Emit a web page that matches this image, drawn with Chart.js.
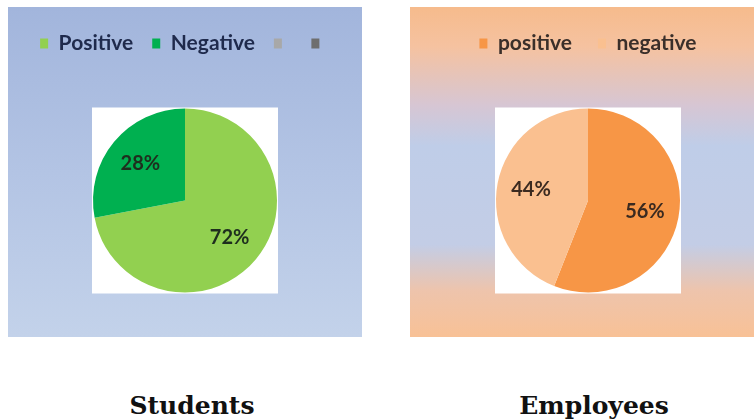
<!DOCTYPE html>
<html>
<head>
<meta charset="utf-8">
<script src="https://cdn.jsdelivr.net/npm/chart.js@4.4.0/dist/chart.umd.min.js"></script>
<style>
  body { margin: 0; background: #fff; width: 754px; height: 419px; position: relative; overflow: hidden; }
  canvas { position: absolute; }
  #students { left: 8px; top: 7px; }
  #employees { left: 410px; top: 7px; }
  .caption {
    position: absolute; top: 393px; width: 240px; text-align: center;
    font: bold 25px "DejaVu Serif", serif; line-height: 25px; color: #111;
  }
</style>
</head>
<body>
<canvas id="students" width="354" height="330"></canvas>
<canvas id="employees" width="344" height="330"></canvas>
<div class="caption" style="left:72px">Students</div>
<div class="caption" style="left:474px">Employees</div>
<script>
// survey answers, in percent
const studentLabels = ['Positive', 'Negative', '', ''];
const studentValues = [72, 28, 0, 0];
const studentColors = ['#92D050', '#00B050', '#A8A8A8', '#6E6E6E'];

const employeeLabels = ['positive', 'negative'];
const employeeValues = [56, 44];
const employeeColors = ['#F79646', '#FAC090'];

// gradient fill behind the whole chart, plus the white plot square
const panelPlugin = {
    id: 'panel',
    beforeDraw(chart, args, opts) {
        const ctx = chart.ctx;
        const g = ctx.createLinearGradient(0, 0, 0, chart.height);
        opts.stops.forEach(s => g.addColorStop(s[0], s[1]));
        ctx.save();
        ctx.fillStyle = g;
        ctx.fillRect(0, 0, chart.width, chart.height);
        ctx.restore();
    },
    beforeDatasetsDraw(chart) {
        const arc = chart.getDatasetMeta(0).data[0];
        const r = arc.outerRadius + 1;
        const ctx = chart.ctx;
        ctx.save();
        ctx.fillStyle = '#ffffff';
        ctx.fillRect(arc.x - r, arc.y - r, 2 * r, 2 * r);
        ctx.restore();
    }
};

// percentage labels inside each slice
const sliceLabels = {
    id: 'sliceLabels',
    afterDatasetsDraw(chart, args, opts) {
        const ctx = chart.ctx;
        const values = chart.data.datasets[0].data;
        ctx.save();
        ctx.font = 'bold 20px Lato, sans-serif';
        ctx.fillStyle = opts.color;
        ctx.textAlign = 'center';
        ctx.textBaseline = 'middle';
        chart.getDatasetMeta(0).data.forEach((arc, i) => {
            if (!values[i]) return;
            const p = arc.getProps(['x', 'y', 'startAngle', 'endAngle', 'outerRadius'], true);
            const mid = (p.startAngle + p.endAngle) / 2;
            const d = p.outerRadius * 0.63;
            ctx.fillText(values[i] + '%', p.x + Math.cos(mid) * d, p.y + Math.sin(mid) * d);
        });
        ctx.restore();
    }
};

function makePie(id, labels, values, colors, cfg) {
    return new Chart(document.getElementById(id), {
        type: 'pie',
        data: {
            labels: labels,
            datasets: [{
                data: values,
                backgroundColor: colors,
                borderWidth: 0
            }]
        },
        options: {
            responsive: false,
            animation: false,
            events: [],
            radius: 92,
            layout: { padding: cfg.padding },
            plugins: {
                legend: {
                    position: 'top',
                    labels: {
                        boxWidth: 8,
                        boxHeight: 10,
                        padding: cfg.legendGap,
                        color: cfg.textColor,
                        font: { family: 'Lato, sans-serif', size: 21, weight: 'bold' }
                    }
                },
                tooltip: { enabled: false },
                panel: { stops: cfg.stops },
                sliceLabels: { color: cfg.labelColor }
            }
        },
        plugins: [panelPlugin, sliceLabels]
    });
}

makePie('students', studentLabels, studentValues, studentColors, {
    padding: { top: 7, left: 0, right: 0, bottom: 0 },
    legendGap: 19,
    textColor: '#1F2A4C',
    labelColor: '#1E2E1E',
    stops: [[0, '#A2B5DC'], [0.5, '#B3C4E4'], [1, '#C3D2EA']]
});

makePie('employees', employeeLabels, employeeValues, employeeColors, {
    padding: { top: 0, left: 12, right: 0, bottom: 0 },
    legendGap: 26,
    textColor: '#3A2F2A',
    labelColor: '#3B2A20',
    stops: [[0, '#F6BB8C'], [0.12, '#F5C2A0'], [0.3, '#D6C6D4'], [0.42, '#BFCDE8'],
            [0.72, '#C3CDE6'], [0.86, '#EEC4AC'], [1, '#F8C196']]
});
</script>
</body>
</html>
